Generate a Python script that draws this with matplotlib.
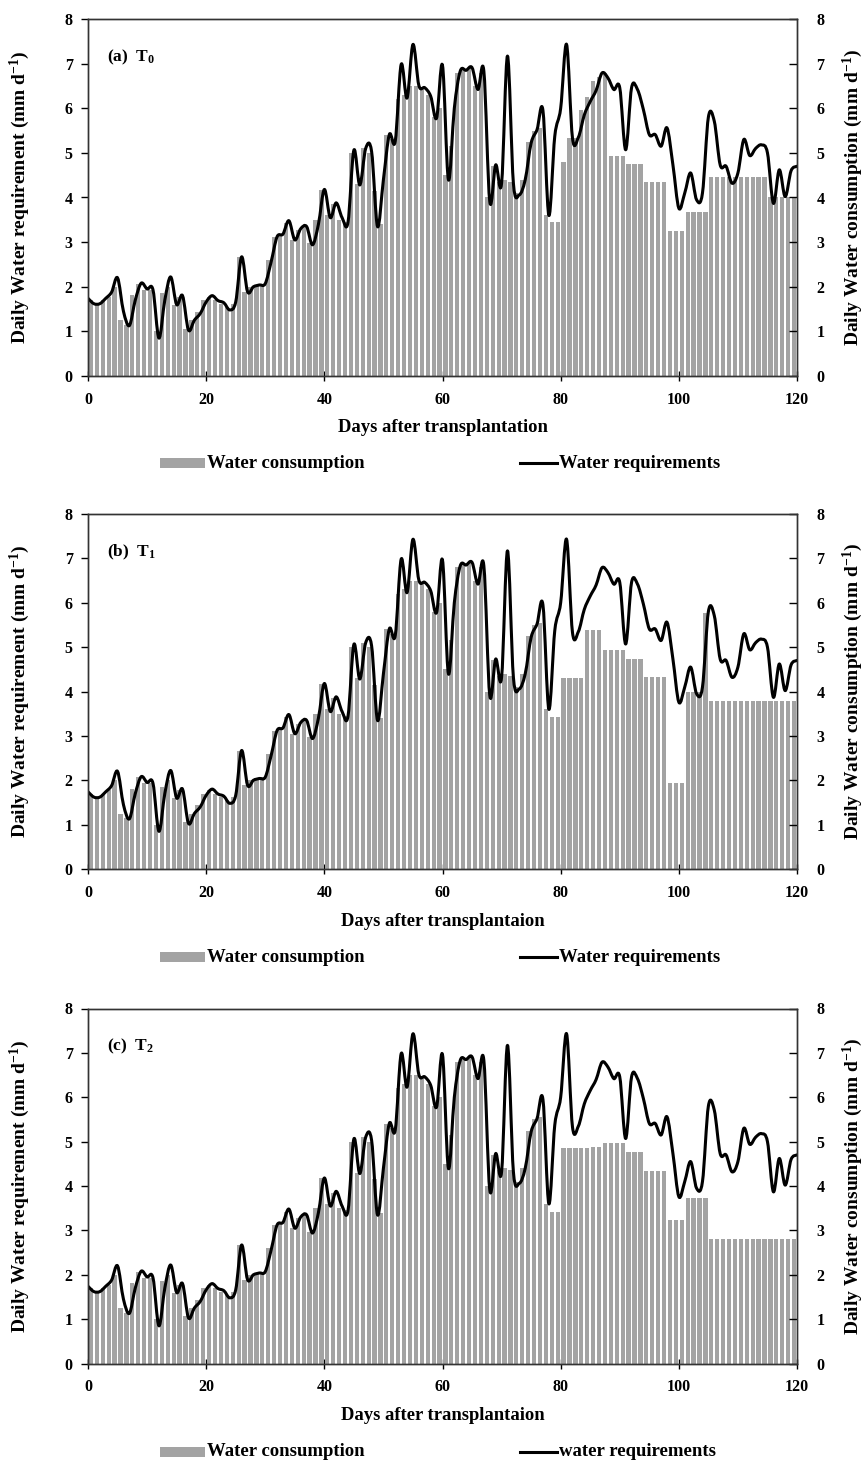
import numpy as np
import matplotlib
matplotlib.use('Agg')
import matplotlib.pyplot as plt
from matplotlib.path import Path
from matplotlib.patches import PathPatch, Rectangle
from matplotlib.lines import Line2D

plt.rcParams['font.family'] = ['Liberation Serif', 'DejaVu Serif']
plt.rcParams['font.weight'] = 'bold'
plt.rcParams['mathtext.fontset'] = 'custom'
plt.rcParams['mathtext.rm'] = 'Liberation Serif:bold'
plt.rcParams['mathtext.bf'] = 'Liberation Serif:bold'
plt.rcParams['mathtext.it'] = 'Liberation Serif:bold'

# ---------------- data ----------------
req_days = list(range(0, 121))
water_requirement = [
    1.74, 1.62, 1.62, 1.74, 1.88, 2.20, 1.45, 1.13, 1.70, 2.08,
    1.95, 1.93, 0.85, 1.70, 2.22, 1.60, 1.80, 1.03, 1.25, 1.40,
    1.66, 1.80, 1.69, 1.64, 1.48, 1.66, 2.67, 1.89, 2.00, 2.04,
    2.07, 2.56, 3.12, 3.18, 3.48, 3.05, 3.30, 3.35, 2.94, 3.40,
    4.18, 3.55, 3.88, 3.55, 3.44, 5.06, 4.28, 5.10, 5.03, 3.35,
    4.40, 5.41, 5.26, 6.98, 6.23, 7.43, 6.51, 6.46, 6.27, 5.78,
    6.96, 4.40, 6.00, 6.83, 6.85, 6.91, 6.42, 6.83, 3.91, 4.73,
    4.32, 7.17, 4.32, 4.06, 4.40, 5.22, 5.52, 5.95, 3.60, 5.37,
    6.00, 7.43, 5.33, 5.35, 5.85, 6.15, 6.40, 6.79, 6.68, 6.42,
    6.46, 5.07, 6.46, 6.42, 5.97, 5.41, 5.41, 5.15, 5.56, 4.73,
    3.76, 4.10, 4.55, 3.95, 4.10, 5.80, 5.71, 4.73, 4.70, 4.32,
    4.55, 5.30, 4.94, 5.10, 5.18, 5.00, 3.87, 4.62, 4.02, 4.60,
    4.70,
]

# daily consumption, days 1-77 (identical in all treatments)
consumption_common = [
    1.70, 1.62, 1.70, 1.78, 2.00, 1.25, 1.14, 1.81, 2.07, 1.93,
    1.93, 1.00, 1.85, 2.00, 1.59, 1.78, 1.06, 1.25, 1.44, 1.70,
    1.78, 1.70, 1.62, 1.55, 1.62, 2.67, 1.89, 2.00, 2.04, 2.07,
    2.60, 3.12, 3.18, 3.42, 3.05, 3.27, 3.35, 2.97, 3.50, 4.17,
    3.60, 3.85, 3.50, 3.45, 5.00, 4.30, 5.10, 5.00, 4.15, 3.40,
    5.40, 5.30, 6.20, 6.30, 6.50, 6.50, 6.45, 6.30, 5.80, 6.00,
    4.50, 5.15, 6.80, 6.85, 6.90, 6.50, 6.80, 4.00, 4.70, 4.35,
    4.40, 4.35, 4.10, 4.40, 5.25, 5.50, 5.55,
]

# days 78-120 for each treatment
consumption_T0_tail = [
    3.60, 3.44, 3.44, 4.80, 5.33, 5.33, 5.96, 6.25, 6.60, 6.70,
    6.80, 4.93, 4.93, 4.93, 4.75, 4.75, 4.75, 4.34, 4.34, 4.34,
    4.34, 3.24, 3.24, 3.24, 3.68, 3.68, 3.68, 3.68, 4.47, 4.47,
    4.47, 4.47, 4.47, 4.47, 4.47, 4.47, 4.47, 4.47, 4.02, 4.02,
    4.02, 4.02, 4.02,
]
consumption_T1_tail = [
    3.60, 3.42, 3.42, 4.30, 4.30, 4.30, 4.30, 5.38, 5.38, 5.38,
    4.93, 4.93, 4.93, 4.93, 4.74, 4.74, 4.74, 4.33, 4.33, 4.33,
    4.33, 1.94, 1.94, 1.94, 4.00, 4.00, 4.00, 5.77, 3.78, 3.78,
    3.78, 3.78, 3.78, 3.78, 3.78, 3.78, 3.78, 3.78, 3.78, 3.78,
    3.78, 3.78, 3.78,
]
consumption_T2_tail = [
    3.60, 3.42, 3.42, 4.86, 4.86, 4.86, 4.86, 4.86, 4.88, 4.88,
    4.96, 4.96, 4.96, 4.96, 4.77, 4.77, 4.77, 4.34, 4.34, 4.34,
    4.34, 3.23, 3.23, 3.23, 3.72, 3.72, 3.72, 3.72, 2.80, 2.80,
    2.80, 2.80, 2.80, 2.80, 2.80, 2.80, 2.80, 2.80, 2.80, 2.80,
    2.80, 2.80, 2.80,
]

panel_titles = ['(a)  T$_{0}$', '(b)  T$_{1}$', '(c)  T$_{2}$']
xlabels = ['Days after transplantation', 'Days after transplantaion',
           'Days after transplantaion']
legend_bar = ['Water consumption', 'Water consumption', 'Water consumption']
legend_line = ['Water requirements', 'Water requirements', 'water requirements']
x_ticks = [0, 20, 40, 60, 80, 100, 120]
y_ticks = [0, 1, 2, 3, 4, 5, 6, 7, 8]

tails = [consumption_T0_tail, consumption_T1_tail, consumption_T2_tail]

# ---------------- helpers ----------------
def smooth_path(xs, ys):
    """Excel-like smoothed line rendered with cubic Bezier segments."""
    xs = np.asarray(xs, float)
    ys = np.asarray(ys, float)
    n = len(xs)
    verts = [(xs[0], ys[0])]
    codes = [Path.MOVETO]
    for i in range(n - 1):
        i0 = max(i - 1, 0)
        i3 = min(i + 2, n - 1)
        c1 = (xs[i] + (xs[i + 1] - xs[i0]) / 6.0, ys[i] + (ys[i + 1] - ys[i0]) / 6.0)
        c2 = (xs[i + 1] - (xs[i3] - xs[i]) / 6.0, ys[i + 1] - (ys[i3] - ys[i]) / 6.0)
        verts += [c1, c2, (xs[i + 1], ys[i + 1])]
        codes += [Path.CURVE4] * 3
    return Path(verts, codes)

BAR_COLOR = '#a3a3a3'
W, H = 867, 1463
fig = plt.figure(figsize=(W / 100, H / 100), dpi=100)

# axes boxes in pixels: (left, top, right, bottom)
boxes = [(88, 19, 797, 376), (88, 514, 797, 869), (88, 1008.5, 797, 1363.5)]
legend_y = [463, 957, 1452]

for p in range(3):
    l, t, r, b = boxes[p]
    ax = fig.add_axes([l / W, 1 - b / H, (r - l) / W, (b - t) / H])
    cons = consumption_common + tails[p]
    pos = np.arange(len(cons)) + 0.5
    ax.bar(pos, cons, width=0.72, color=BAR_COLOR, edgecolor='none', zorder=2)
    ax.add_patch(PathPatch(smooth_path(req_days, water_requirement), fill=False,
                           edgecolor='black', lw=2.2, zorder=3,
                           capstyle='round', joinstyle='round'))
    ax.set_xlim(0, 120)
    ax.set_ylim(0, 8)
    ax.set_xticks(x_ticks)
    ax.set_yticks(y_ticks)
    ax.tick_params(axis='x', direction='inout', length=7, width=1, pad=8, labelsize=11.5)
    ax.tick_params(axis='y', direction='out', length=5, width=1, pad=6, labelsize=11.5)
    for s in ax.spines.values():
        s.set_linewidth(1.0)
        s.set_color('#333333')
    ax.set_xlabel(xlabels[p], fontsize=13.4, fontweight='bold', va='center')
    ax.xaxis.set_label_coords(0.5, -(52.0 / (b - t)))
    ax.set_ylabel('Daily Water requirement (mm d$^{-1}$)', fontsize=14,
                  fontweight='bold', va='center')
    ax.yaxis.set_label_coords(-(68.0 / (r - l)), 0.5)
    ax.text(19.0 / (r - l), 1 - 38.0 / (b - t), panel_titles[p], transform=ax.transAxes,
            fontsize=12.5, fontweight='bold', va='center', ha='left')

    ax2 = ax.twinx()
    ax2.set_ylim(0, 8)
    ax2.set_yticks(y_ticks)
    ax2.tick_params(axis='y', direction='in', length=6, width=1, pad=14, labelsize=11.5)
    for s in ax2.spines.values():
        s.set_linewidth(1.0)
        s.set_color('#333333')
    ax2.set_ylabel('Daily Water consumption (mm d$^{-1}$)', fontsize=14,
                   fontweight='bold', va='center', rotation=90)
    ax2.yaxis.set_label_coords(1 + (56.0 / (r - l)), 0.5)

    # legend drawn below each panel
    ly = legend_y[p]
    fig.patches.append(Rectangle((160 / W, 1 - (ly + 5) / H), 45 / W, 10 / H,
                                 transform=fig.transFigure, facecolor=BAR_COLOR,
                                 edgecolor='none'))
    fig.text(207 / W, 1 - ly / H, legend_bar[p], fontsize=13.5, fontweight='bold',
             va='center', ha='left')
    fig.lines.append(Line2D([520 / W, 557 / W], [1 - ly / H, 1 - ly / H],
                            transform=fig.transFigure, color='black', lw=2.2))
    fig.text(559 / W, 1 - ly / H, legend_line[p], fontsize=13.5, fontweight='bold',
             va='center', ha='left')

fig.savefig('out.png', dpi=100)
